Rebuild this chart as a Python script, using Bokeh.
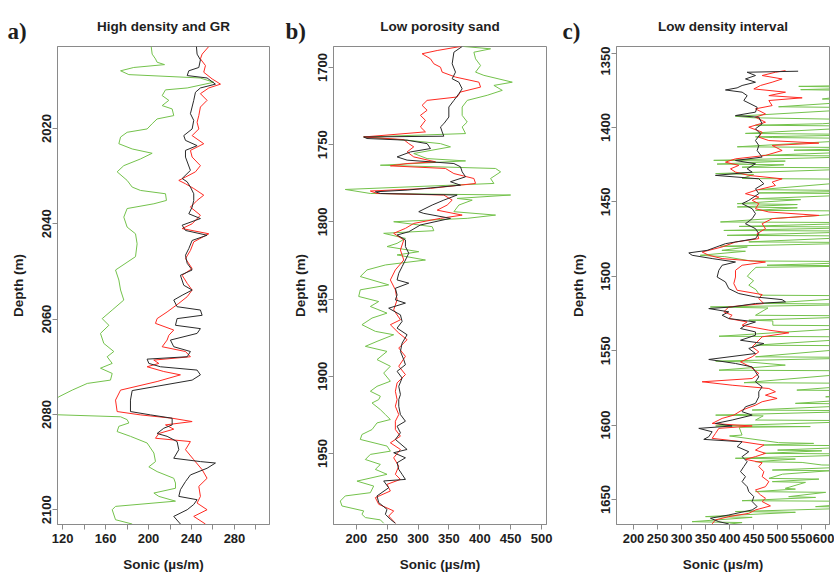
from bokeh.plotting import figure
from bokeh.layouts import row, column
from bokeh.models import Range1d, FixedTicker, Label
from bokeh.embed import file_html
from bokeh.resources import INLINE

# ---------------- Panel a: High density and GR ----------------
a_green_depth = [2002.8, 2004.4, 2005.4, 2006.1, 2006.6, 2007.2, 2007.9, 2008.7, 2009.4, 2010.3, 2011.5, 2011.9,
                 2013.1, 2014.1, 2015.2, 2015.9, 2017.3, 2018.0, 2019.0, 2020.1, 2020.8, 2021.8, 2023.2, 2024.3,
                 2025.2, 2026.4, 2027.8, 2029.1, 2030.9, 2032.3, 2033.0, 2033.7, 2035.1, 2035.8, 2036.8, 2038.6,
                 2040.7, 2042.1, 2044.2, 2046.9, 2049.7, 2051.8, 2053.9, 2056.0, 2058.1, 2059.9, 2061.3, 2063.0,
                 2065.1, 2066.8, 2067.9, 2069.3, 2070.3, 2071.4, 2072.8, 2073.5, 2074.9, 2076.3, 2078.4, 2080.0,
                 2080.5, 2081.1, 2081.8, 2082.5, 2083.6, 2084.6, 2086.0, 2088.1, 2089.9, 2091.0, 2092.0, 2093.4,
                 2094.4, 2095.5, 2096.5, 2097.2, 2098.2, 2099.3, 2100.0, 2102.1, 2103.0]
a_green_val = [202.5, 203.4, 206.5, 208.0, 214.9, 186.3, 174.0, 181.7, 248.0, 260.7, 236.0, 215.8,
               212.7, 218.9, 212.7, 222.0, 223.5, 208.0, 203.4, 198.7, 180.1, 174.0, 172.4, 184.8,
               203.4, 192.5, 177.0, 170.8, 180.1, 184.8, 192.5, 215.8, 216.7, 205.0, 180.1, 177.0,
               180.1, 187.9, 189.4, 187.9, 169.3, 172.4, 174.0, 177.0, 166.2, 156.9, 163.1, 155.3,
               158.4, 167.7, 161.5, 166.2, 155.3, 166.2, 164.6, 143.0, 129.0, 116.6, 105.0, 105.0,
               174.0, 180.1, 181.7, 172.4, 170.8, 183.2, 198.7, 205.0, 206.5, 200.3, 208.0, 223.5,
               225.1, 225.1, 205.0, 209.6, 225.1, 169.3, 166.2, 169.3, 184.8]

a_black_depth = [2002.8, 2004.4, 2005.6, 2007.2, 2007.9, 2008.9, 2009.4, 2010.7, 2011.5, 2012.4, 2014.1, 2016.9,
                 2018.3, 2020.1, 2021.5, 2022.5, 2023.6, 2024.6, 2026.0, 2028.8, 2030.5, 2031.2, 2032.3, 2033.7,
                 2035.1, 2036.5, 2037.9, 2038.9, 2040.3, 2041.4, 2042.4, 2043.5, 2045.2, 2046.6, 2048.3, 2049.7,
                 2050.8, 2052.9, 2053.9, 2055.0, 2056.0, 2057.4, 2058.1, 2059.2, 2059.9, 2061.3, 2062.0, 2063.0,
                 2064.4, 2065.8, 2066.8, 2067.9, 2068.4, 2069.3, 2070.0, 2070.7, 2071.7, 2072.8, 2075.0, 2077.0,
                 2079.4, 2080.1, 2080.8, 2082.2, 2082.9, 2084.0, 2084.6, 2085.7, 2087.4, 2089.2, 2089.9, 2090.2,
                 2091.3, 2092.7, 2094.1, 2095.8, 2097.2, 2097.9, 2098.9, 2100.0, 2101.4, 2103.0]
a_black_val = [244.6, 245.2, 248.3, 246.8, 237.5, 236.0, 254.5, 262.3, 248.3, 243.7, 242.1, 239.0,
               242.1, 240.6, 232.8, 234.4, 245.2, 234.4, 234.4, 239.0, 231.3, 236.0, 239.0, 242.1,
               242.1, 240.6, 237.5, 248.3, 231.3, 234.4, 254.5, 240.6, 237.5, 234.4, 236.0, 240.6,
               229.7, 232.8, 240.6, 231.3, 223.5, 226.6, 248.3, 249.9, 226.6, 225.1, 248.3, 245.2,
               220.4, 223.5, 239.0, 236.0, 198.7, 200.3, 211.1, 245.2, 248.3, 240.6, 184.8, 183.2,
               183.2, 201.8, 222.0, 222.0, 214.2, 208.0, 217.3, 226.6, 228.2, 223.5, 248.3, 262.3,
               254.5, 239.0, 234.4, 229.7, 228.2, 245.2, 242.1, 236.0, 223.5, 229.7]

a_red_depth = [2002.8, 2004.4, 2005.4, 2006.8, 2008.2, 2009.6, 2010.7, 2011.5, 2012.7, 2014.1, 2015.5, 2017.3,
               2018.7, 2020.1, 2021.5, 2023.2, 2024.6, 2026.0, 2027.8, 2029.1, 2030.2, 2030.9, 2031.6, 2032.6,
               2034.0, 2035.1, 2036.5, 2038.2, 2040.0, 2041.0, 2042.1, 2043.8, 2045.6, 2047.3, 2049.4, 2050.8,
               2052.5, 2053.9, 2055.3, 2056.7, 2058.5, 2059.9, 2060.9, 2062.3, 2063.4, 2064.4, 2065.8, 2066.8,
               2067.9, 2068.6, 2069.3, 2070.0, 2071.0, 2071.7, 2073.1, 2074.9, 2077.0, 2079.4, 2080.1, 2080.8,
               2081.5, 2082.2, 2083.1, 2084.0, 2085.0, 2085.7, 2087.4, 2089.5, 2091.6, 2093.4, 2095.1, 2097.2,
               2098.6, 2100.0, 2101.4, 2103.0]
a_red_val = [256.1, 249.9, 248.3, 253.0, 251.4, 259.2, 267.0, 256.1, 248.3, 254.5, 248.3, 246.8,
             245.2, 246.8, 240.6, 251.4, 239.0, 240.6, 248.3, 243.7, 234.4, 228.2, 234.4, 242.1,
             251.4, 245.2, 239.0, 248.3, 240.6, 231.3, 256.1, 242.1, 239.0, 234.4, 240.6, 231.3,
             236.0, 240.6, 236.0, 228.2, 217.3, 208.0, 206.5, 223.5, 218.9, 217.3, 212.7, 234.4,
             239.0, 204.9, 209.6, 198.7, 214.2, 229.7, 208.0, 174.0, 169.3, 170.8, 192.5, 222.0,
             240.6, 215.8, 223.5, 209.6, 206.5, 239.0, 234.4, 242.1, 249.9, 254.5, 246.8, 248.3,
             245.2, 254.5, 242.1, 253.0]

a_xticks = [120, 140, 160, 180, 200, 220, 240, 260, 280, 300]
a_xtick_labels = ["120", "", "160", "", "200", "", "240", "", "280", ""]
a_yticks = [2020, 2040, 2060, 2080, 2100]

# ---------------- Panel b: Low porosity sand ----------------
b_black_depth = [1686.4, 1690.1, 1697.6, 1703.0, 1707.3, 1709.5, 1713.8, 1717.0, 1721.3, 1725.6, 1732.1, 1736.4,
                 1738.5, 1741.7, 1744.5, 1745.0, 1746.0, 1747.1, 1749.3, 1752.5, 1754.7, 1757.9, 1760.0, 1762.2,
                 1764.3, 1767.6, 1770.8, 1774.0, 1776.2, 1779.4, 1780.5, 1781.6, 1782.6, 1785.9, 1789.1, 1793.4,
                 1794.5, 1797.7, 1802.0, 1806.4, 1808.5, 1811.7, 1816.0, 1820.3, 1824.7, 1829.0, 1833.3, 1837.6,
                 1839.7, 1843.0, 1847.3, 1850.5, 1852.6, 1855.9, 1860.2, 1864.5, 1868.8, 1873.1, 1878.5, 1883.9,
                 1889.2, 1892.5, 1896.8, 1901.1, 1906.5, 1911.8, 1915.1, 1919.4, 1924.8, 1929.1, 1932.3, 1936.6,
                 1940.9, 1947.4, 1949.5, 1952.8, 1956.0, 1960.3, 1963.5, 1966.8, 1967.8, 1972.2, 1977.5, 1981.8,
                 1986.2, 1989.4, 1992.6, 1995.2]
b_black_val = [371.4, 358.0, 355.2, 360.6, 355.2, 366.0, 371.4, 366.0, 358.0, 349.8, 349.8, 341.7,
               336.3, 339.0, 341.7, 211.9, 217.3, 282.2, 314.6, 320.1, 287.6, 266.0, 282.2, 358.0,
               368.7, 371.4, 376.9, 352.5, 368.7, 282.2, 230.8, 238.9, 363.3, 341.7, 322.8, 301.1,
               309.3, 352.5, 303.8, 284.9, 266.0, 279.5, 279.5, 284.9, 279.5, 274.1, 268.7, 266.0,
               284.9, 263.2, 266.0, 263.2, 279.5, 252.4, 271.4, 274.1, 266.0, 282.2, 274.1, 271.4,
               276.8, 279.5, 266.0, 274.1, 268.7, 271.4, 268.7, 268.7, 271.4, 279.5, 266.0, 271.4,
               263.2, 282.2, 260.5, 279.5, 266.0, 268.7, 274.1, 279.5, 244.3, 252.4, 233.5, 236.2,
               249.7, 247.0, 255.1, 263.2]

b_red_depth = [1686.4, 1689.0, 1691.1, 1694.4, 1697.6, 1699.8, 1703.0, 1706.2, 1709.5, 1712.7, 1715.9, 1719.1,
               1721.3, 1724.5, 1727.7, 1731.0, 1734.2, 1738.5, 1741.7, 1745.0, 1746.7, 1749.3, 1751.4, 1754.7,
               1757.9, 1761.1, 1762.2, 1763.7, 1765.4, 1768.7, 1771.9, 1775.1, 1778.3, 1780.0, 1781.6, 1782.6,
               1785.9, 1789.1, 1792.4, 1795.6, 1797.7, 1801.0, 1804.2, 1807.4, 1811.7, 1818.2, 1824.7, 1831.1,
               1837.6, 1844.0, 1850.5, 1857.0, 1863.4, 1866.6, 1872.0, 1876.3, 1881.7, 1887.1, 1893.5, 1898.9,
               1904.3, 1909.7, 1915.1, 1919.4, 1924.8, 1929.1, 1934.5, 1938.8, 1943.1, 1947.4, 1952.8, 1958.2,
               1963.5, 1966.8, 1970.0, 1974.3, 1978.6, 1982.9, 1987.2, 1990.5, 1995.2]
b_red_val = [368.7, 330.9, 306.5, 320.1, 325.5, 336.3, 339.0, 360.6, 398.5, 401.2, 368.7, 363.3,
             314.6, 306.5, 314.6, 303.8, 311.9, 303.8, 311.9, 211.9, 276.8, 284.9, 293.0, 282.2,
             293.0, 328.2, 282.2, 255.1, 344.4, 358.0, 390.4, 393.1, 320.1, 222.7, 233.5, 341.7,
             355.2, 347.1, 330.9, 371.4, 336.3, 293.0, 279.5, 260.5, 276.8, 271.4, 276.8, 263.2,
             255.1, 263.2, 266.0, 260.5, 271.4, 255.1, 268.7, 282.2, 268.7, 279.5, 268.7, 279.5,
             266.0, 263.2, 266.0, 263.2, 268.7, 263.2, 263.2, 271.4, 255.1, 271.4, 260.5, 268.7,
             263.2, 271.4, 249.7, 255.1, 230.8, 236.2, 260.5, 252.4, 263.2]

b_green_depth = [1686.4, 1687.9, 1690.1, 1694.4, 1698.7, 1703.0, 1705.1, 1709.5, 1711.6, 1714.8, 1718.0, 1721.3,
                 1725.6, 1731.0, 1735.3, 1738.5, 1742.8, 1745.0, 1747.1, 1749.3, 1751.4, 1755.7, 1759.0, 1760.5,
                 1763.3, 1765.4, 1767.6, 1771.9, 1775.1, 1779.0, 1781.6, 1782.6, 1784.8, 1785.9, 1789.1, 1793.4,
                 1795.6, 1797.7, 1799.9, 1803.1, 1805.7, 1807.4, 1810.7, 1813.9, 1816.0, 1819.3, 1821.4, 1824.7,
                 1827.9, 1831.1, 1835.4, 1840.8, 1844.0, 1848.3, 1851.6, 1854.8, 1859.1, 1862.3, 1866.6, 1870.9,
                 1873.1, 1877.4, 1880.6, 1883.9, 1889.2, 1893.5, 1897.9, 1903.2, 1906.5, 1909.7, 1912.9, 1915.1,
                 1917.3, 1921.6, 1924.8, 1928.0, 1930.2, 1934.5, 1937.7, 1940.9, 1945.2, 1948.5, 1950.6, 1953.9,
                 1957.1, 1960.3, 1963.5, 1967.9, 1971.1, 1975.4, 1977.5, 1980.8, 1984.0, 1987.2, 1989.4, 1991.5,
                 1993.0, 1995.2]
b_green_val = [374.1, 417.4, 390.4, 393.1, 401.2, 393.1, 406.6, 452.6, 422.8, 436.4, 412.0, 379.6,
               371.4, 371.4, 379.6, 371.4, 376.9, 211.9, 282.2, 336.3, 352.5, 293.0, 314.6, 376.9,
               238.9, 425.5, 433.7, 417.4, 422.8, 182.1, 222.7, 449.9, 363.3, 387.7, 366.0, 358.0,
               425.5, 379.6, 260.5, 322.8, 325.5, 244.3, 279.5, 266.0, 249.7, 301.1, 266.0, 311.9,
               247.0, 217.3, 206.4, 252.4, 206.4, 203.8, 236.2, 222.7, 249.7, 225.4, 209.1, 230.8,
               260.5, 233.5, 214.6, 249.7, 233.5, 255.1, 244.3, 255.1, 233.5, 222.7, 238.9, 236.2,
               225.4, 238.9, 247.0, 255.1, 233.5, 225.4, 209.1, 206.4, 249.7, 255.1, 222.7, 214.6,
               238.9, 230.8, 249.7, 201.0, 228.1, 222.7, 182.1, 174.0, 176.7, 211.9, 209.1, 214.6,
               238.9, 244.3]

b_xticks = [200, 250, 300, 350, 400, 450, 500]
b_yticks = [1700, 1750, 1800, 1850, 1900, 1950]

# ---------------- Panel c: Low density interval ----------------
c_black_depth = [1362.2, 1362.9, 1365.1, 1367.4, 1369.6, 1371.8, 1373.4, 1374.8, 1376.3, 1378.6, 1381.9, 1386.4,
                 1389.7, 1392.0, 1393.1, 1397.6, 1400.9, 1404.3, 1408.8, 1412.1, 1415.5, 1419.9, 1422.2, 1424.4,
                 1427.8, 1430.0, 1432.2, 1434.5, 1437.8, 1441.2, 1444.5, 1449.0, 1451.2, 1454.6, 1457.9, 1461.3,
                 1464.7, 1468.0, 1471.4, 1474.7, 1478.1, 1482.6, 1484.3, 1485.9, 1488.1, 1490.4, 1492.6, 1496.0,
                 1500.5, 1503.8, 1508.3, 1511.6, 1513.9, 1515.7, 1517.2, 1518.3, 1520.6, 1521.7, 1523.9, 1526.2,
                 1528.4, 1530.7, 1532.9, 1535.1, 1537.4, 1539.6, 1543.0, 1545.2, 1548.5, 1551.9, 1555.9, 1558.6,
                 1560.9, 1564.2, 1567.6, 1570.9, 1574.3, 1577.6, 1581.0, 1583.2, 1585.4, 1587.7, 1591.0, 1593.3,
                 1596.6, 1598.9, 1600.6, 1602.2, 1604.5, 1607.8, 1609.6, 1611.2, 1614.5, 1617.9, 1621.2, 1624.6,
                 1627.9, 1631.3, 1634.6, 1638.0, 1641.4, 1644.7, 1648.1, 1651.4, 1654.8, 1657.0, 1660.4, 1662.6,
                 1664.9, 1666.4]
c_black_val = [542.7, 436.6, 453.9, 433.1, 453.9, 426.1, 415.7, 391.4, 426.1, 436.6, 429.6, 457.4,
               453.9, 412.3, 460.8, 467.8, 453.9, 464.3, 453.9, 460.8, 457.4, 467.8, 412.3, 453.9,
               436.6, 447.0, 370.6, 460.8, 471.3, 453.9, 460.8, 440.0, 426.1, 447.0, 453.9, 447.0,
               433.1, 453.9, 460.8, 453.9, 391.4, 353.3, 315.1, 322.1, 363.7, 412.3, 384.5, 377.6,
               374.1, 391.4, 398.4, 419.2, 453.9, 509.4, 516.4, 453.9, 405.3, 356.7, 398.4, 384.5,
               398.4, 453.9, 433.1, 422.7, 453.9, 453.9, 422.7, 471.3, 440.0, 453.9, 356.7, 412.3,
               447.0, 453.9, 460.8, 453.9, 467.8, 460.8, 460.8, 457.4, 453.9, 433.1, 426.1, 447.0,
               405.3, 370.6, 405.3, 335.9, 363.7, 356.7, 346.3, 426.1, 415.7, 440.0, 426.1, 436.6,
               429.6, 422.7, 433.1, 426.1, 436.6, 440.0, 450.5, 447.0, 457.4, 447.0, 398.4, 360.2,
               377.6, 398.4]

c_red_depth = [1361.8, 1362.9, 1365.1, 1367.4, 1369.6, 1371.8, 1374.1, 1376.3, 1378.6, 1380.1, 1381.9, 1385.3,
               1387.5, 1390.9, 1393.1, 1396.5, 1399.8, 1403.2, 1406.5, 1408.8, 1410.5, 1412.1, 1415.5, 1418.8,
               1421.1, 1423.3, 1425.5, 1427.8, 1430.0, 1432.2, 1434.5, 1436.7, 1439.0, 1442.3, 1444.5, 1446.8,
               1449.0, 1451.2, 1454.6, 1456.8, 1459.1, 1461.3, 1464.7, 1468.0, 1471.4, 1474.7, 1477.0, 1480.3,
               1483.7, 1485.9, 1488.1, 1490.4, 1492.6, 1496.0, 1500.5, 1504.9, 1509.4, 1512.3, 1515.0, 1518.3,
               1520.6, 1523.9, 1526.2, 1528.4, 1530.7, 1532.9, 1536.2, 1538.0, 1540.7, 1544.1, 1547.4, 1550.8,
               1554.1, 1557.5, 1560.9, 1565.3, 1568.7, 1570.9, 1573.2, 1575.4, 1577.6, 1579.9, 1582.1, 1584.3,
               1586.6, 1589.9, 1593.3, 1595.5, 1598.9, 1600.6, 1602.2, 1605.6, 1608.9, 1611.2, 1613.4, 1616.8,
               1619.0, 1621.2, 1623.0, 1625.3, 1627.9, 1631.3, 1634.6, 1638.0, 1641.4, 1643.6, 1646.9, 1649.2,
               1651.4, 1654.3, 1657.0, 1659.3, 1661.5, 1663.7, 1666.4]
c_red_val = [516.4, 495.5, 467.8, 509.4, 488.6, 464.3, 450.5, 516.4, 481.7, 551.1, 481.7, 488.6,
             453.9, 474.7, 453.9, 474.7, 440.0, 467.8, 460.8, 481.7, 585.8, 488.6, 509.4, 474.7,
             412.3, 391.4, 419.2, 401.9, 412.3, 440.0, 509.4, 488.6, 495.5, 453.9, 433.1, 460.8,
             447.0, 460.8, 453.9, 481.7, 585.8, 488.6, 467.8, 474.7, 457.4, 460.8, 412.3, 384.5,
             342.9, 356.7, 384.5, 474.7, 426.1, 412.3, 412.3, 408.8, 415.7, 467.8, 460.8, 471.3,
             398.4, 388.0, 405.3, 398.4, 436.6, 426.1, 481.7, 523.3, 467.8, 457.4, 447.0, 460.8,
             447.0, 422.7, 443.5, 460.8, 447.0, 342.9, 405.3, 481.7, 495.5, 474.7, 498.9, 467.8,
             453.9, 426.1, 408.8, 384.5, 363.7, 447.0, 377.6, 370.6, 363.7, 426.1, 471.3, 453.9,
             474.7, 453.9, 433.1, 467.8, 460.8, 471.3, 467.8, 481.7, 474.7, 453.9, 464.3, 474.7,
             467.8, 485.1, 453.9, 440.0, 398.4, 370.6, 363.7]

c_green_depth = [1371.5, 1372.4, 1373.2, 1374.6, 1375.4, 1380.9, 1381.5, 1386.1, 1386.8, 1392.5, 1393.5, 1395.0,
                 1397.5, 1398.5, 1399.2, 1404.0, 1404.8, 1406.3, 1406.8, 1407.5, 1413.0, 1413.6, 1415.3, 1415.8,
                 1418.8, 1419.3, 1422.1, 1422.6, 1424.6, 1425.1, 1426.7, 1427.3, 1431.0, 1431.6, 1434.3, 1434.9,
                 1441.8, 1442.6, 1444.0, 1444.6, 1447.9, 1448.5, 1451.2, 1451.8, 1453.4, 1454.0, 1455.7, 1456.3,
                 1463.5, 1464.0, 1466.5, 1467.0, 1469.2, 1469.7, 1472.5, 1473.0, 1476.9, 1477.4, 1479.8, 1480.3,
                 1482.6, 1483.2, 1485.9, 1486.8, 1489.7, 1490.2, 1492.6, 1493.0, 1494.0, 1497.0, 1500.0, 1503.0,
                 1506.0, 1509.0, 1511.5, 1512.7, 1513.2, 1518.3, 1518.8, 1520.6, 1521.3, 1526.2, 1526.7, 1529.5,
                 1530.0, 1532.9, 1533.4, 1540.3, 1540.8, 1546.3, 1546.8, 1554.1, 1554.6, 1557.0, 1557.6, 1559.7,
                 1563.1, 1563.6, 1570.9, 1571.5, 1572.0, 1576.5, 1577.0, 1581.0, 1581.5, 1585.4, 1586.0, 1589.9,
                 1590.4, 1593.3, 1593.8, 1596.6, 1597.1, 1600.6, 1601.0, 1601.5, 1606.7, 1607.3, 1611.8, 1612.3,
                 1613.4, 1614.0, 1616.8, 1617.3, 1619.0, 1619.5, 1622.3, 1622.8, 1624.6, 1625.1, 1626.8, 1627.3,
                 1630.2, 1630.7, 1633.0, 1635.8, 1636.3, 1638.0, 1638.5, 1642.5, 1643.0, 1644.7, 1645.2, 1648.1,
                 1648.6, 1650.8, 1651.3, 1654.8, 1655.3, 1658.1, 1658.6, 1661.5, 1662.0, 1664.9, 1665.5, 1666.5]
c_green_val = [720, 544, 720, 548, 720, 593, 720, 502, 720, 412, 450, 720,
               593, 454, 720, 433, 720, 454, 490, 720, 416, 720, 534, 720,
               468, 720, 367, 516, 374, 513, 426, 720, 371, 450, 426, 720,
               461, 720, 461, 720, 454, 548, 416, 541, 416, 541, 454, 720,
               381, 720, 420, 720, 388, 720, 395, 720, 440, 720, 381, 437,
               384, 433, 339, 390, 444, 720, 478, 720, 455, 445, 437, 450,
               440, 455, 460, 464, 720, 470, 720, 360, 480, 454, 720, 440,
               490, 490, 720, 378, 720, 454, 720, 454, 720, 371, 440, 516,
               378, 720, 454, 430, 720, 540, 720, 600, 720, 537, 720, 447,
               720, 371, 470, 454, 720, 371, 568, 420, 426, 400, 502, 575,
               470, 720, 500, 592, 470, 720, 412, 537, 454, 551, 592, 720,
               489, 607, 510, 482, 586, 489, 558, 516, 537, 454, 600, 523,
               579, 426, 720, 579, 720, 412, 537, 350, 447, 322, 426, 400]

c_xticks = [200, 250, 300, 350, 400, 450, 500, 550, 600]
c_yticks = [1350, 1400, 1450, 1500, 1550, 1600, 1650]

GREEN = "#74c24c"
RED = "#ff2a22"
BLACK = "#2a2a2a"
FRAME = "#8a8a8a"
TXT = "#1e1e1e"
FONT = "Liberation Sans"
HEAD_H = 46


def header(width, bl, br, title, letter, letter_x):
    h = figure(width=width, height=HEAD_H, output_backend="svg", toolbar_location=None,
               x_range=Range1d(0, width), y_range=Range1d(HEAD_H, 0),
               x_axis_location=None, y_axis_location=None,
               min_border_left=0, min_border_right=0, min_border_top=0, min_border_bottom=0,
               background_fill_color="white", border_fill_color="white")
    h.frame_align = False
    h.grid.visible = False
    h.outline_line_color = None
    h.add_layout(Label(x=(bl + width - br) / 2.0, y=26, text=title, text_font=FONT, text_font_style="bold",
                       text_font_size="13.5px", text_color=TXT, text_align="center", text_baseline="middle"))
    h.add_layout(Label(x=letter_x, y=31, text=letter, text_font="Liberation Serif", text_font_style="bold",
                       text_font_size="23px", text_color=TXT, text_align="left", text_baseline="alphabetic"))
    return h


def panel(width, bl, br, xr, yr, xticks, xlabels, yticks, ylab_standoff, curves):
    p = figure(width=width, height=574 - HEAD_H, output_backend="svg", toolbar_location=None,
               x_range=Range1d(xr[0], xr[1]), y_range=Range1d(yr[1], yr[0]),
               min_border_left=bl, min_border_right=br, min_border_top=0, min_border_bottom=49,
               background_fill_color="white", border_fill_color="white")
    p.frame_align = False
    p.grid.visible = False
    p.outline_line_color = FRAME
    p.outline_line_width = 1
    for depth, vals, col in curves:
        p.line(vals, depth, line_color=col, line_width=1)

    p.xaxis.ticker = FixedTicker(ticks=xticks, minor_ticks=[])
    if xlabels is not None:
        p.xaxis.major_label_overrides = {t: l for t, l in zip(xticks, xlabels)}
    p.yaxis.ticker = FixedTicker(ticks=yticks, minor_ticks=[])
    for ax in (p.xaxis[0], p.yaxis[0]):
        ax.axis_line_color = FRAME
        ax.major_tick_line_color = FRAME
        ax.major_tick_in = 0
        ax.major_tick_out = 5
        ax.minor_tick_line_color = None
        ax.major_label_text_font = FONT
        ax.major_label_text_font_style = "bold"
        ax.major_label_text_font_size = "13px"
        ax.major_label_text_color = TXT
        ax.axis_label_text_font = FONT
        ax.axis_label_text_font_style = "bold"
        ax.axis_label_text_font_size = "13.5px"
        ax.axis_label_text_color = TXT
    p.xaxis.axis_label = "Sonic (\u00b5s/m)"
    p.xaxis.major_label_standoff = 4
    p.xaxis.axis_label_standoff = 11
    p.yaxis.axis_label = "Depth (m)"
    p.yaxis.major_label_orientation = "vertical"
    p.yaxis.major_label_standoff = 1
    p.yaxis.axis_label_standoff = ylab_standoff
    return p


ha = header(280, 57, 11, "High density and GR", "a)", 7)
pa = panel(280, 57, 11, (115.3, 312.6), (2002.8, 2103.1), a_xticks, a_xtick_labels, a_yticks, 14,
           [(a_green_depth, a_green_val, GREEN), (a_red_depth, a_red_val, RED), (a_black_depth, a_black_val, BLACK)])
hb = header(275, 53, 9, "Low porosity sand", "b)", 5)
pb = panel(275, 53, 9, (163.0, 508.0), (1686.4, 1996.0), b_xticks, None, b_yticks, 8,
           [(b_green_depth, b_green_val, GREEN), (b_red_depth, b_red_val, RED), (b_black_depth, b_black_val, BLACK)])
hc = header(279, 61, 5, "Low density interval", "c)", 7)
pc = panel(279, 61, 5, (164.6, 608.0), (1345.6, 1666.8), c_xticks, None, c_yticks, 13,
           [(c_green_depth, c_green_val, GREEN), (c_red_depth, c_red_val, RED), (c_black_depth, c_black_val, BLACK)])

layout = row(column(ha, pa, spacing=0), column(hb, pb, spacing=0), column(hc, pc, spacing=0), spacing=0)
open("out.html", "w").write(file_html(layout, INLINE))
